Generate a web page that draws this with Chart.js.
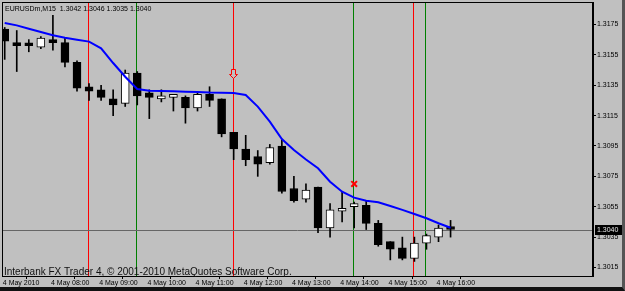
<!DOCTYPE html>
<html>
<head>
<meta charset="utf-8">
<script src="https://cdn.jsdelivr.net/npm/chart.js@4.4.1/dist/chart.umd.min.js"></script>
<style>
html,body{margin:0;padding:0;background:#c0c0c0;}
#frame{width:625px;height:291px;box-sizing:border-box;border-right:3px solid #555;border-bottom:4px solid #111;background:#c0c0c0;}
#wrap{position:relative;width:622px;height:287px;}
</style>
</head>
<body>
<div id="frame"><div id="wrap"><canvas id="c" width="622" height="287"></canvas></div></div>
<script>
// ---- data ----
const symbolTitle = "EURUSDm,M15";
const times = ["07:00","07:15","07:30","07:45","08:00","08:15","08:30","08:45","09:00","09:15","09:30","09:45",
  "10:00","10:15","10:30","10:45","11:00","11:15","11:30","11:45","12:00","12:15","12:30","12:45",
  "13:00","13:15","13:30","13:45","14:00","14:15","14:30","14:45","15:00","15:15","15:30","15:45","16:00","16:15"];
const opens  = [1.3172,1.3163,1.3162,1.3160,1.3165,1.3163,1.3150,1.3134,1.3132,1.3126,1.3123,1.3143,
  1.3130,1.3126,1.3127,1.3127,1.3120,1.3129,1.3126,1.3104,1.3093,1.3088,1.3084,1.3095,
  1.3067,1.3060,1.3068,1.3041,1.3052,1.3055,1.3056,1.3044,1.3032,1.3028,1.3021,1.3031,1.3035,1.3042];
const highs  = [1.3173,1.3171,1.3165,1.3167,1.3181,1.3166,1.3151,1.3136,1.3135,1.3132,1.3145,1.3144,
  1.3132,1.3132,1.3129,1.3128,1.3130,1.3134,1.3126,1.3104,1.3102,1.3092,1.3096,1.3099,
  1.3075,1.3070,1.3068,1.3057,1.3065,1.3058,1.3059,1.3046,1.3032,1.3035,1.3035,1.3037,1.3043,1.3046];
const lows   = [1.3152,1.3144,1.3157,1.3159,1.3158,1.3147,1.3131,1.3125,1.3125,1.3115,1.3121,1.3122,
  1.3113,1.3124,1.3118,1.3110,1.3118,1.3121,1.3101,1.3086,1.3082,1.3075,1.3083,1.3064,
  1.3058,1.3058,1.3038,1.3035,1.3045,1.3041,1.3040,1.3029,1.3020,1.3020,1.3019,1.3027,1.3032,1.3035];
const closes = [1.3164,1.3161,1.3161,1.3166,1.3163,1.3150,1.3133,1.3131,1.3127,1.3122,1.3143,1.3128,
  1.3127,1.3127,1.3129,1.3120,1.3129,1.3125,1.3103,1.3093,1.3086,1.3083,1.3094,1.3065,
  1.3059,1.3066,1.3041,1.3053,1.3054,1.3057,1.3044,1.3030,1.3027,1.3021,1.3031,1.3036,1.3041,1.3040];
const maValues = [1.31760,1.31744,1.31722,1.31700,1.31679,1.31663,1.31650,1.31637,1.31593,1.31496,1.31406,1.31325,
  1.31314,1.31312,1.31310,1.31307,1.31305,1.31302,1.31301,1.31299,1.31286,1.31209,1.31110,1.30996,
  1.30924,1.30861,1.30803,1.30715,1.30649,1.30610,1.30590,1.30579,1.30555,1.30529,1.30502,1.30474,1.30441,1.30412];
const priceTicks = [1.3015,1.3035,1.3055,1.3075,1.3095,1.3115,1.3135,1.3155,1.3175];
const timeTickTimes = ["07:00","08:00","09:00","10:00","11:00","12:00","13:00","14:00","15:00","16:00"];
const timeTickLabels = ["4 May 2010","4 May 08:00","4 May 09:00","4 May 10:00","4 May 11:00","4 May 12:00","4 May 13:00","4 May 14:00","4 May 15:00","4 May 16:00"];
const redLineTimes = ["08:45","11:45","15:30"];
const greenLineTimes = ["09:45","14:15","15:45"];
const sellArrow = {time:"11:45", price:1.3140};
const crossMark = {time:"14:15", price:1.3070};
const bidPrice = 1.3040;
const copyright = "Interbank FX Trader 4, \u00A9 2001-2010 MetaQuotes Software Corp.";

// ---- build ----
const idx = t => times.indexOf(t);
const n = times.length;
const wickData = times.map((t,i)=>({x:i, y:[lows[i], highs[i]]}));
const bodyData = times.map((t,i)=>({x:i, y:[Math.min(opens[i],closes[i]), Math.max(opens[i],closes[i])]}));
const bodyFill = times.map((t,i)=> closes[i] >= opens[i] ? '#ffffff' : '#000000');
const maData = times.map((t,i)=>({x:i, y:maValues[i]}));
const TICK_SHIFT = -0.2; // MT4 draws the time tick at the left side of the bar
const tickIdx = timeTickTimes.map(idx);
const tickMap = {}; tickIdx.forEach((v,k)=> tickMap[v] = timeTickLabels[k]);

const FONT = "'Liberation Sans', Arial, sans-serif";
Chart.defaults.font.family = FONT;
Chart.defaults.font.size = 7;
Chart.defaults.color = '#000';

const overlay = {
  id: 'overlay',
  beforeDatasetsDraw(chart){
    const {ctx, chartArea:a, scales:{x,y}} = chart;
    ctx.save();
    ctx.lineWidth = 1;
    const vline = (t,col)=>{ const px = Math.round(x.getPixelForValue(idx(t)))-0.5; ctx.strokeStyle=col; ctx.beginPath(); ctx.moveTo(px,a.top); ctx.lineTo(px,a.bottom); ctx.stroke(); };
    redLineTimes.forEach(t=>vline(t,'#ff0000'));
    greenLineTimes.forEach(t=>vline(t,'#008000'));
    const py = Math.round(y.getPixelForValue(bidPrice))+0.5;
    ctx.strokeStyle = '#666666';
    ctx.beginPath(); ctx.moveTo(a.left,py); ctx.lineTo(a.right,py); ctx.stroke();
    ctx.restore();
  },
  afterDatasetsDraw(chart){
    const {ctx, scales:{x,y}} = chart;
    const ax = Math.round(x.getPixelForValue(idx(sellArrow.time)))-0.5;
    const ay = Math.round(y.getPixelForValue(sellArrow.price))+0.5;
    ctx.save();
    ctx.strokeStyle = '#ff0000'; ctx.fillStyle = '#c0c0c0'; ctx.lineWidth = 1;
    ctx.beginPath();
    ctx.moveTo(ax, ay);
    ctx.lineTo(ax-4, ay-4);
    ctx.lineTo(ax-2, ay-4);
    ctx.lineTo(ax-2, ay-9);
    ctx.lineTo(ax+2, ay-9);
    ctx.lineTo(ax+2, ay-4);
    ctx.lineTo(ax+4, ay-4);
    ctx.closePath();
    ctx.fill(); ctx.stroke();
    ctx.restore();
  },
  afterDraw(chart){
    const {ctx, chartArea:a, scales:{y}} = chart;
    ctx.save();
    ctx.strokeStyle = '#000'; ctx.lineWidth = 1;
    ctx.strokeRect(a.left+0.5, a.top+0.5, a.right-a.left-1, a.bottom-a.top);
    ctx.fillStyle = '#000';
    ctx.font = "7px " + FONT;
    ctx.textBaseline = 'alphabetic';
    const hdr = symbolTitle + "  " + [opens[n-1],highs[n-1],lows[n-1],closes[n-1]].map(v=>v.toFixed(4)).join(" ");
    ctx.fillText(hdr, 5, 11);
    ctx.font = "10px " + FONT;
    ctx.fillStyle = '#111';
    ctx.fillText(copyright, 4, 275);
    const py = Math.round(y.getPixelForValue(bidPrice));
    ctx.fillStyle = '#000';
    ctx.fillRect(595, py-5, 27, 10);
    ctx.fillStyle = '#e8e8e8';
    ctx.font = "7px " + FONT;
    ctx.textBaseline = 'middle';
    ctx.fillText(bidPrice.toFixed(4), 597, py+0.5);
    ctx.restore();
  }
};

new Chart(document.getElementById('c'), {
  type: 'bar',
  data: {
    datasets: [
      { type:'line', data: maData, borderColor:'#0000ff', borderWidth:2, pointRadius:0, tension:0, order:0 },
      { type:'scatter', data:[{x:idx(crossMark.time), y:crossMark.price}], pointStyle:'crossRot', pointRadius:4, borderColor:'#ff0000', borderWidth:2, order:0 },
      { data: bodyData, backgroundColor: bodyFill, borderColor:'#000', borderWidth:1, borderSkipped:false, barThickness:8, minBarLength:3, grouped:false, order:1 },
      { data: wickData, backgroundColor:'#000', borderWidth:0, barThickness:1, grouped:false, order:2 }
    ]
  },
  options: {
    responsive:false, animation:false,
    layout:{ autoPadding:false, padding:{left:2, top:2, right:0, bottom:0} },
    plugins:{ legend:{display:false}, tooltip:{enabled:false} },
    scales:{
      x:{
        type:'linear', offset:false, min:-0.224, max:48.82,
        afterBuildTicks(s){ s.ticks = tickIdx.map(v=>({value:v + TICK_SHIFT})); },
        afterFit(s){ s.height = 11; s.paddingLeft = 0; s.paddingRight = 0; },
        grid:{ drawOnChartArea:false, drawTicks:true, tickLength:3, color:'#000' },
        border:{ display:true, color:'#000' },
        ticks:{ autoSkip:false, maxRotation:0, align:'start', labelOffset:0.5, padding:0, font:{size:7}, color:'#000',
          callback:(v)=> tickMap[Math.round(v)] ?? '' }
      },
      y:{
        position:'right', min:1.30094, max:1.318978,
        afterBuildTicks(s){ s.ticks = priceTicks.map(v=>({value:v})); },
        afterFit(s){ s.width = 29; s.paddingTop = 0; s.paddingBottom = 0; },
        grid:{ drawOnChartArea:false, drawTicks:true, tickLength:3, color:'#000' },
        border:{ display:true, color:'#000' },
        ticks:{ padding:1, font:{size:7}, color:'#000', callback:(v)=> Number(v).toFixed(4) }
      }
    }
  },
  plugins:[overlay]
});
</script>
</body>
</html>
